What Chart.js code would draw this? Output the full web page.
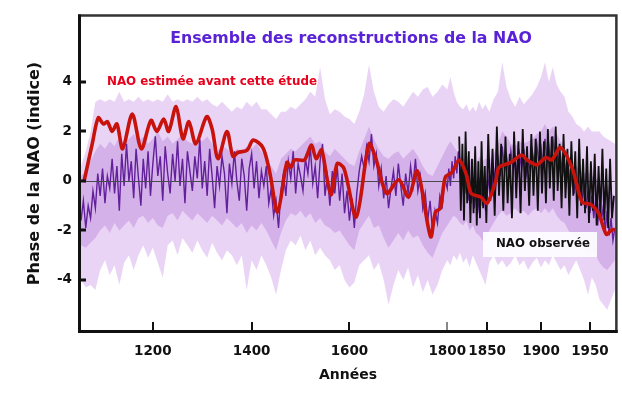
<!DOCTYPE html>
<html><head><meta charset="utf-8">
<script src="https://cdn.jsdelivr.net/npm/chart.js@4.4.1/dist/chart.umd.min.js"></script>
<style>html,body{margin:0;padding:0;background:#fff}canvas{display:block}</style>
</head><body>
<canvas id="c" width="622" height="398"></canvas>
<script>
// ---------- DATA ----------
const TITLE = "Ensemble des reconstructions de la NAO";
const LABEL_RED = "NAO estimée avant cette étude";
const LABEL_OBS = "NAO observée";
const X_TITLE = "Années";
const Y_TITLE = "Phase de la NAO (indice)";
const X_TICKS = [1200, 1400, 1600, 1800, 1850, 1900, 1950];
const Y_TICKS = [-4, -2, 0, 2, 4];

function range(a, b, s) { const r = []; for (let v = a; v <= b; v += s) r.push(v); return r; }
// envelope grid: every 10 years to 1800, every 4 years after
const ENV_YEARS = range(1050, 1800, 10).concat(range(1804, 1976, 4));
// ensemble spread (light lavender)
const ENV_UPPER = [
 0.6,1.2,2.0,3.2,3.3,3.2,3.3,3.2,3.6,3.2,
 3.3,3.2,3.4,3.2,3.3,3.2,3.3,3.2,3.5,3.2,
 3.3,3.2,3.3,3.2,3.4,3.2,3.3,3.1,3.0,3.2,
 3.0,2.8,3.0,2.9,3.2,3.0,3.2,2.9,2.9,2.7,
 2.5,2.8,2.8,3.0,2.9,3.1,3.3,3.6,3.4,4.6,
 3.3,2.7,2.9,2.8,2.6,2.5,2.3,2.8,3.5,4.7,
 3.6,3.0,2.8,3.1,3.3,3.2,3.0,3.3,3.6,3.4,
 3.7,3.8,3.4,3.6,3.9,3.7,
 4.2,3.6,3.2,3.0,2.9,3.1,2.8,3.0,2.8,3.2,
 2.9,3.1,2.8,3.3,3.6,4.8,3.8,3.3,3.0,3.4,
 3.1,3.3,3.5,3.8,4.2,4.8,4.0,4.6,3.9,3.6,
 3.4,2.8,2.6,2.3,2.2,2.0,2.2,2.0,2.0,2.0,
 1.8,1.7,1.6,1.5];
const ENV_LOWER = [
 -4.0,-4.3,-4.2,-4.4,-3.6,-3.2,-3.8,-3.4,-4.2,-3.3,
 -3.0,-3.6,-3.0,-2.6,-3.1,-2.7,-3.3,-3.9,-2.6,-2.4,
 -3.0,-2.3,-2.6,-2.9,-2.4,-2.8,-3.1,-2.5,-2.9,-3.2,
 -2.8,-3.0,-3.4,-3.0,-4.4,-3.2,-3.6,-3.0,-3.4,-3.9,
 -4.6,-3.6,-2.8,-2.4,-2.6,-2.2,-2.8,-2.4,-3.0,-2.7,
 -3.0,-3.2,-3.6,-3.4,-4.0,-4.3,-4.1,-3.4,-3.2,-3.0,
 -3.6,-3.3,-4.0,-5.0,-4.2,-3.6,-4.0,-3.5,-4.3,-3.8,
 -4.5,-4.0,-4.6,-4.2,-3.6,-3.2,
 -3.4,-3.0,-3.2,-2.9,-3.3,-3.1,-3.5,-3.0,-3.3,-3.6,
 -3.9,-4.2,-3.3,-3.0,-3.4,-3.2,-3.5,-3.3,-3.0,-3.4,
 -3.2,-3.6,-3.3,-3.1,-3.5,-3.2,-3.4,-3.0,-3.3,-3.6,
 -3.4,-3.8,-3.5,-3.2,-3.6,-4.0,-4.6,-3.9,-4.2,-4.8,
 -5.0,-5.2,-4.8,-4.4];
// inner spread (medium lavender)
const INNER_UPPER = [
 0.2,0.4,0.8,1.2,1.5,1.3,1.6,1.4,1.8,1.5,
 1.7,1.9,1.6,1.8,1.5,1.7,2.0,1.6,1.8,1.5,
 1.7,1.9,1.6,1.5,1.7,1.6,1.8,1.5,1.2,1.4,
 1.3,1.1,1.3,1.2,1.4,1.3,1.5,1.2,0.9,0.6,
 0.3,0.9,1.1,1.3,1.2,1.4,1.6,1.8,1.5,1.6,
 1.2,1.0,1.3,1.1,0.9,0.7,0.6,1.2,1.7,2.2,
 1.7,1.3,1.0,0.9,1.1,1.2,0.9,1.1,1.3,1.0,
 0.6,0.3,0.2,0.6,1.0,1.4,
 1.6,1.4,1.2,1.0,0.9,1.1,0.8,0.9,0.7,1.0,
 0.8,0.9,0.8,1.1,1.5,2.0,1.8,1.5,1.4,1.6,
 1.5,1.6,1.7,1.9,2.0,2.3,2.0,2.2,1.9,1.6,
 1.4,1.0,0.8,0.6,0.4,0.3,0.4,0.2,0.1,0.0,
 -0.2,-0.4,-0.5,-0.6];
const INNER_LOWER = [
 -2.6,-2.7,-2.5,-2.3,-2.0,-1.8,-2.1,-1.7,-2.0,-1.8,
 -1.6,-1.9,-1.5,-1.4,-1.7,-1.5,-1.8,-1.9,-1.4,-1.3,
 -1.6,-1.2,-1.4,-1.6,-1.3,-1.5,-1.7,-1.4,-1.6,-1.8,
 -1.5,-1.7,-1.9,-1.7,-2.1,-1.8,-2.0,-1.7,-2.0,-2.4,
 -2.8,-2.1,-1.6,-1.3,-1.4,-1.2,-1.5,-1.3,-1.7,-1.5,
 -1.8,-1.9,-2.1,-2.0,-2.3,-2.6,-2.8,-2.0,-1.7,-1.4,
 -1.9,-1.8,-2.3,-2.7,-2.4,-2.1,-2.4,-2.0,-2.3,-2.2,
 -2.6,-2.9,-3.1,-2.6,-2.1,-1.8,
 -1.6,-1.4,-1.5,-1.7,-1.8,-1.6,-2.0,-1.8,-2.1,-2.2,
 -2.4,-2.5,-2.0,-1.7,-1.4,-1.2,-1.4,-1.3,-1.1,-1.3,
 -1.2,-1.4,-1.2,-1.1,-1.3,-1.1,-1.3,-1.1,-1.4,-1.6,
 -1.7,-2.0,-2.2,-2.3,-2.5,-2.7,-3.0,-2.8,-3.0,-3.3,
 -3.5,-3.6,-3.4,-3.2];

// reconstruction (dark purple): every 5 years to 1800, every 2 years after
const RECON_YEARS = range(1050, 1800, 5).concat(range(1802, 1976, 2));
const RECON = [
 -1.6,-0.8,-1.9,-1.0,-1.5,-0.4,-1.1,0.3,-0.6,0.5,
 -0.9,0.2,-0.3,0.9,-0.5,0.6,-1.2,1.1,-0.2,1.5,
 0.0,0.8,-0.7,1.3,0.1,-1.0,0.9,-0.3,1.2,-0.6,
 0.7,1.8,0.2,1.0,-0.8,1.4,0.3,-0.5,1.1,0.0,
 1.6,-0.2,0.9,-0.9,1.2,0.4,-0.4,1.0,0.1,1.7,
 -0.3,0.8,-0.6,1.3,0.2,-1.1,0.6,-0.2,1.0,0.3,
 -1.3,0.7,-0.1,1.2,0.0,-0.8,0.9,0.2,-1.2,0.5,
 1.1,-0.3,0.8,-0.7,0.4,-0.2,0.6,-0.9,-0.3,-1.4,
 -0.8,-1.9,-0.4,0.3,-0.6,0.8,0.1,1.2,-0.5,0.7,
 0.2,-0.4,0.9,0.3,1.4,-0.1,0.6,-0.7,0.8,1.5,
 -0.6,0.2,-1.0,0.4,-0.5,0.6,-0.8,0.3,-1.3,-0.4,
 -1.6,-0.7,-1.9,-0.5,0.4,1.0,0.5,1.4,0.8,1.9,
 0.6,1.1,-0.2,0.5,-0.7,0.2,-1.1,-0.3,0.4,-0.6,
 0.7,-0.2,-1.0,0.3,-0.5,0.6,-0.2,0.9,-0.4,0.2,
 -1.1,-0.5,-1.6,-0.8,-2.1,-1.2,-1.7,-0.6,-1.0,0.1,
 -0.3,
 0.5,-0.2,0.8,0.1,1.0,0.3,1.2,0.4,-0.3,0.6,
 -0.5,0.2,-0.8,0.0,-0.9,-0.2,-1.1,-0.4,-1.3,-0.6,
 -0.1,-1.0,-0.3,-1.2,-0.5,0.2,-0.6,0.5,-0.2,0.9,
 0.2,1.4,0.5,1.0,0.3,1.2,0.4,0.9,0.1,1.1,
 0.5,1.3,0.2,0.8,0.4,1.2,0.6,1.5,0.7,1.3,
 0.5,1.7,0.8,1.4,0.6,1.8,0.9,1.3,0.5,1.0,
 0.2,0.7,-0.1,0.5,-0.3,0.4,-0.5,0.2,-0.7,0.0,
 -0.8,-0.2,-1.1,-0.4,-1.3,-0.6,-1.5,-0.7,-1.8,-0.9,
 -1.6,-1.0,-2.0,-1.2,-2.2,-1.5,-2.4,-1.9];

// observed NAO (black), every 2 years
const OBS_YEARS = range(1815, 1975, 2);
const OBS = [
 1.8,-1.2,1.5,-1.6,2.0,-0.9,1.2,-1.7,0.9,-1.3,
 1.4,-1.8,0.8,-1.5,1.6,-1.1,0.6,-1.7,1.9,-0.8,
 1.3,-1.4,2.2,-0.6,1.5,-1.2,1.8,-0.9,1.1,-1.5,
 2.0,-0.7,1.6,-1.3,2.1,-0.4,1.4,-1.0,1.9,-0.6,
 1.7,-1.2,2.0,-0.5,1.6,-0.9,2.1,-0.3,1.8,-0.8,
 2.2,-0.4,1.5,-1.1,1.9,-0.7,1.3,-1.4,1.6,-0.6,
 1.2,-1.5,1.7,-1.0,0.9,-1.3,1.4,-1.7,0.8,-1.2,
 1.1,-1.8,0.6,-1.4,1.3,-1.6,0.5,-1.9,0.9,-1.5,
 -0.6];

// previous estimate (red, smoothed)
const RED_YEARS = [1056,1074,1086,1097,1105,1115,1125,1137,1157,1176,
 1196,1208,1222,1232,1247,1261,1273,1287,1309,1320,
 1332,1350,1362,1372,1391,1403,1423,1437,1453,1472,
 1480,1488,1508,1522,1532,1543,1555,1563,1575,1589,
 1614,1640,1654,1676,1701,1721,1739,1766,1776,1786,
 1796,1806,1815,1824,1830,1842,1850,1858,1861,1872,
 1882,1887,1896,1905,1911,1920,1932,1942,1951,1959,
 1967,1972,1976];
const RED = [-0.05,1.55,2.55,2.3,2.4,2.0,2.3,1.3,2.7,1.3,
 2.45,2.0,2.5,2.0,3.0,1.7,2.4,1.5,2.6,2.1,
 0.9,2.0,1.0,1.15,1.25,1.65,1.35,0.35,-1.25,0.75,
 0.55,0.85,0.85,1.45,0.9,1.25,0.0,-0.55,0.7,0.5,
 -1.45,1.5,0.9,-0.5,0.05,-0.65,0.4,-2.25,-1.25,-1.1,
 0.15,0.35,0.85,0.25,-0.5,-0.65,-0.9,0.0,0.55,0.75,
 1.05,0.85,0.65,0.95,0.85,1.35,0.5,-0.85,-0.95,-1.3,
 -2.15,-2.0,-1.95];

// broken time axis: year anchors and their relative positions along the axis
const AX_YEARS = [1050, 1200, 1400, 1600, 1800, 1850, 1900, 1950, 1976];
const AX_POS   = [0, 72, 171, 269, 367, 407, 461, 510, 535];

// ---------- SCALE ----------
function interp(v, xs, ys) {
  if (v <= xs[0]) return ys[0] + (v - xs[0]) * (ys[1] - ys[0]) / (xs[1] - xs[0]);
  for (let i = 1; i < xs.length; i++) {
    if (v <= xs[i]) return ys[i-1] + (v - xs[i-1]) * (ys[i] - ys[i-1]) / (xs[i] - xs[i-1]);
  }
  const n = xs.length - 1;
  return ys[n] + (v - xs[n]) * (ys[n] - ys[n-1]) / (xs[n] - xs[n-1]);
}
class BrokenScale extends Chart.LinearScale {
  getPixelForValue(v) {
    const a = interp(this.min, AX_YEARS, AX_POS), b = interp(this.max, AX_YEARS, AX_POS);
    return this.getPixelForDecimal((interp(v, AX_YEARS, AX_POS) - a) / (b - a));
  }
  getValueForPixel(p) {
    const a = interp(this.min, AX_YEARS, AX_POS), b = interp(this.max, AX_YEARS, AX_POS);
    return interp(a + this.getDecimalForPixel(p) * (b - a), AX_POS, AX_YEARS);
  }
}
BrokenScale.id = 'broken';
BrokenScale.defaults = Chart.LinearScale.defaults;
Chart.register(BrokenScale);

const pts = (xs, ys) => xs.map((x, i) => ({ x, y: ys[i] }));
const FONT = '"DejaVu Sans", Verdana, sans-serif';

function fitText(ctx, txt, cx, cy, w, color, size) {
  ctx.font = 'bold ' + size + 'px ' + FONT;
  const s = size * w / ctx.measureText(txt).width;
  ctx.font = 'bold ' + s.toFixed(2) + 'px ' + FONT;
  ctx.fillStyle = color; ctx.textAlign = 'center'; ctx.textBaseline = 'middle';
  ctx.fillText(txt, cx, cy);
}

const deco = {
  id: 'deco',
  beforeDatasetDraw(chart, args) {
    if (args.index !== 1) return;
    const { ctx, chartArea: a, scales: { y } } = chart;
    const y0 = Math.round(y.getPixelForValue(0)) + 0.5;
    ctx.save(); ctx.strokeStyle = '#4a4a4a'; ctx.lineWidth = 1;
    ctx.beginPath(); ctx.moveTo(a.left, y0); ctx.lineTo(a.right, y0); ctx.stroke(); ctx.restore();
  },
  afterDatasetsDraw(chart) {
    const { ctx } = chart;
    ctx.save();
    fitText(ctx, TITLE, 351, 39, 362, '#5a22d6', 16);
    fitText(ctx, LABEL_RED, 212, 82, 210, '#e8001c', 12);
    ctx.fillStyle = 'rgba(255,255,255,0.9)';
    ctx.fillRect(483, 232, 114, 25);
    fitText(ctx, LABEL_OBS, 543, 244, 94, '#111111', 12);
    ctx.restore();
  },
  afterDraw(chart) {
    const { ctx, chartArea: a, scales: { x, y } } = chart;
    ctx.save();
    ctx.fillStyle = '#111';
    Y_TICKS.forEach(v => { const py = y.getPixelForValue(v); ctx.fillRect(a.left, Math.round(py) - 1.5, 5, 3); });
    X_TICKS.forEach(v => {
      const px = x.getPixelForValue(v);
      ctx.fillStyle = v === 1800 ? '#888' : '#111';
      ctx.fillRect(Math.round(px) - 1, a.bottom - 8, 2, 8);
    });
    ctx.strokeStyle = '#333'; ctx.lineWidth = 2.5;
    ctx.beginPath(); ctx.moveTo(a.left - 3, a.top - 1.5); ctx.lineTo(a.right + 1.5, a.top - 1.5); ctx.lineTo(a.right + 1.5, a.bottom); ctx.stroke();
    ctx.strokeStyle = '#111'; ctx.lineWidth = 3;
    ctx.beginPath(); ctx.moveTo(a.left - 1.5, a.top - 2.5); ctx.lineTo(a.left - 1.5, a.bottom + 1.5); ctx.lineTo(a.right + 3, a.bottom + 1.5); ctx.stroke();
    ctx.restore();
  }
};

new Chart(document.getElementById('c'), {
  type: 'line',
  data: {
    datasets: [
      { data: pts(RED_YEARS, RED), borderColor: '#c8120c', borderWidth: 3.6, tension: 0.3, pointRadius: 0, fill: false },
      { data: pts(OBS_YEARS, OBS), borderColor: '#111111', borderWidth: 1.8, tension: 0, pointRadius: 0, fill: false },
      { data: pts(RECON_YEARS, RECON), borderColor: '#62209a', borderWidth: 1.4, tension: 0, pointRadius: 0, fill: false },
      { data: pts(ENV_YEARS, INNER_UPPER), borderWidth: 0, pointRadius: 0, fill: '+1', backgroundColor: 'rgba(196,150,224,0.55)' },
      { data: pts(ENV_YEARS, INNER_LOWER), borderWidth: 0, pointRadius: 0, fill: false },
      { data: pts(ENV_YEARS, ENV_UPPER), borderWidth: 0, pointRadius: 0, fill: '+1', backgroundColor: 'rgba(230,204,244,0.85)' },
      { data: pts(ENV_YEARS, ENV_LOWER), borderWidth: 0, pointRadius: 0, fill: false }
    ]
  },
  options: {
    responsive: false, animation: false,
    layout: { padding: { top: 14, right: 6, left: 0, bottom: 0 } },
    plugins: { legend: { display: false }, tooltip: { enabled: false } },
    scales: {
      x: {
        type: 'broken', min: 1050, max: 1976,
        afterBuildTicks: s => { s.ticks = X_TICKS.map(v => ({ value: v })); },
        afterFit: s => { s.height = 68; },
        grid: { display: false, drawTicks: false }, border: { display: false },
        ticks: { autoSkip: false, maxRotation: 0, padding: 13, color: '#111', font: { family: FONT, size: 13.5, weight: 'bold' }, callback: v => String(v) },
        title: { display: true, text: X_TITLE, color: '#111', font: { family: FONT, size: 14, weight: 'bold' }, padding: { top: 0, bottom: 14 } }
      },
      y: {
        min: -6.02, max: 6.62,
        afterBuildTicks: s => { s.ticks = Y_TICKS.map(v => ({ value: v })); },
        afterFit: s => { s.width = 81; },
        grid: { display: false, drawTicks: false }, border: { display: false },
        ticks: { padding: 9, color: '#111', font: { family: FONT, size: 13.5, weight: 'bold' }, callback: v => String(v) },
        title: { display: true, text: Y_TITLE, color: '#111', font: { family: FONT, size: 16, weight: 'bold' }, padding: { top: 25, bottom: 0 } }
      }
    }
  },
  plugins: [deco]
});
</script>
</body></html>
